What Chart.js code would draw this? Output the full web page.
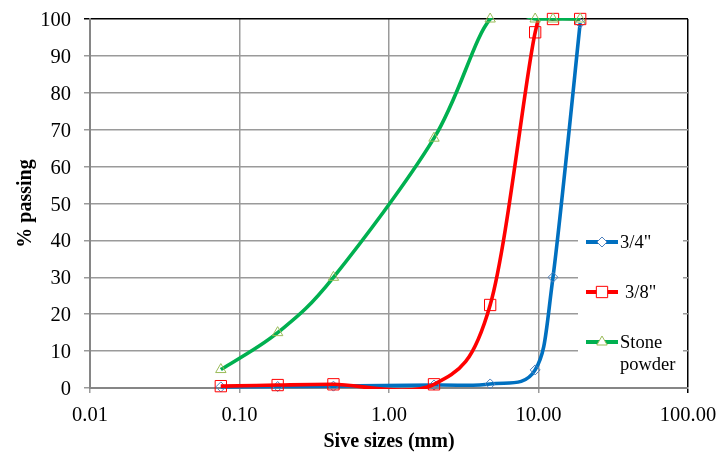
<!DOCTYPE html>
<html>
<head>
<meta charset="utf-8">
<script src="https://cdn.jsdelivr.net/npm/chart.js@4"></script>
<style>
  html, body { margin: 0; padding: 0; background: #fff; }
  #wrap { width: 720px; height: 454px; position: relative; }
  #labels { position: absolute; left: 0; top: 0; width: 720px; height: 454px; pointer-events: none;
            font-family: 'Liberation Serif', 'Times New Roman', serif; font-size: 20.5px; line-height: 20px; color: #000; }
  #labels div { position: absolute; white-space: nowrap; }
  #labels div.leg { font-size: 18.5px; }
</style>
</head>
<body>
<div id="wrap"><canvas id="grading"></canvas><div id="labels"></div></div>
<script>
// sieve sizes in mm
var sieveSizes = [0.075, 0.18, 0.425, 2.0, 4.75, 9.5, 12.5, 19.0];
// % passing per material
var passing34 = [0.3, 0.4, 0.5, 0.8, 1.1, 4.9, 30.0, 98.9];
var passing38 = [0.5, 0.8, 1.0, 1.0, 22.5, 96.4, 100, 100];
var passingStone = [5.0, 15.0, 30.0, 67.7, 100, 100, 100, 100];
var seriesNames = ['3/4"', '3/8"', 'Stone powder'];
var xTicks = [0.01, 0.1, 1, 10, 100];

var serif = "'Liberation Serif', 'Times New Roman', serif";

// look of each series (line colour, marker)
var styles = [
    { line: '#0070C0', marker: '#4F81BD', shape: 'rectRot', size: 5 },
    { line: '#FF0000', marker: '#FF0000', shape: 'rect', size: 8 },
    { line: '#00B050', marker: '#9BBB59', shape: 'triangle', size: 6 }
];
var values = [passing34, passing38, passingStone];

function toPoints(ys) {
    return sieveSizes.map(function(x, i) { return { x: x, y: ys[i] }; });
}

// Excel style smoothing: uniform Catmull-Rom (1/6) control points in pixel space
var excelSmooth = {
    id: 'excelSmooth',
    beforeDatasetsDraw: function(chart) {
        chart.data.datasets.forEach(function(ds, di) {
            if (!ds.showLine) return;
            var meta = chart.getDatasetMeta(di);
            var line = meta.dataset;
            var pts = meta.data;
            if (line && line.updateControlPoints) line.updateControlPoints(chart.chartArea, 'x');
            var n = pts.length;
            for (var i = 0; i < n; i++) {
                var prev = pts[Math.max(i - 1, 0)];
                var next = pts[Math.min(i + 1, n - 1)];
                var tx = (next.x - prev.x) / 6;
                var ty = (next.y - prev.y) / 6;
                pts[i].cp1x = pts[i].x - tx;
                pts[i].cp1y = pts[i].y - ty;
                pts[i].cp2x = pts[i].x + tx;
                pts[i].cp2y = pts[i].y + ty;
            }
        });
    }
};

function legendMarker(ctx, st, x, y) {
    ctx.save();
    ctx.fillStyle = '#fff';
    ctx.strokeStyle = st.marker;
    ctx.lineWidth = 1;
    Chart.helpers.drawPoint(ctx, { pointStyle: st.shape, radius: st.size, rotation: 0, borderWidth: 1 }, x, y);
    ctx.restore();
}

// legend box sitting inside the plot, bottom right, like the Excel original
var legendRows = [242, 292, 342];
var insideLegend = {
    id: 'insideLegend',
    afterDatasetsDraw: function(chart) {
        var ctx = chart.ctx;
        var area = chart.chartArea;
        ctx.save();
        ctx.fillStyle = '#fff';
        ctx.fillRect(area.right - 110, area.bottom - 172, 105, 169);
        seriesNames.forEach(function(name, i) {
            var st = styles[i];
            var y = legendRows[i];
            ctx.strokeStyle = st.line;
            ctx.lineWidth = 4;
            ctx.beginPath();
            ctx.moveTo(586, y);
            ctx.lineTo(618, y);
            ctx.stroke();
            legendMarker(ctx, st, 602, y);
        });
        ctx.restore();
    }
};

// tick labels and legend text as html text, placed from the chart's own scales
function addLabel(box, text, css, cls) {
    var d = document.createElement('div');
    d.textContent = text;
    if (cls) d.className = cls;
    Object.keys(css).forEach(function(k) { d.style[k] = css[k]; });
    box.appendChild(d);
}
var htmlLabels = {
    id: 'htmlLabels',
    afterRender: function(chart) {
        var box = document.getElementById('labels');
        box.innerHTML = '';
        var xs = chart.scales.x, ys = chart.scales.y;
        ys.ticks.forEach(function(t) {
            addLabel(box, String(t.value), {
                right: (720 - 71) + 'px',
                top: ys.getPixelForValue(t.value) + 'px',
                transform: 'translateY(-50%)'
            });
        });
        xs.ticks.forEach(function(t) {
            addLabel(box, Number(t.value).toFixed(2), {
                left: xs.getPixelForValue(t.value) + 'px',
                top: '414px',
                transform: 'translate(-50%, -50%)'
            });
        });
        seriesNames.forEach(function(name, i) {
            var tx = i === 1 ? 625 : 620;
            name.split(' ').forEach(function(w, k) {
                addLabel(box, w, {
                    left: tx + 'px',
                    top: (legendRows[i] + k * 22) + 'px',
                    transform: 'translateY(-50%)'
                }, 'leg');
            });
        });
    }
};

// each material: a smoothed line clipped to the plot, plus its markers on top
var datasets = [];
seriesNames.forEach(function(name, i) {
    var st = styles[i];
    datasets.push({
        label: name,
        data: toPoints(values[i]),
        showLine: true,
        borderColor: st.line,
        borderWidth: 3.6,
        tension: 0.33,
        pointRadius: 0,
        fill: false,
        clip: { left: false, right: false, top: 1, bottom: 1 },
        order: 2 * (2 - i) + 1
    });
    datasets.push({
        label: name + ' markers',
        data: toPoints(values[i]),
        showLine: false,
        pointStyle: st.shape,
        pointRadius: st.size,
        pointBorderWidth: 1,
        pointBorderColor: st.marker,
        pointBackgroundColor: 'rgba(0,0,0,0)',
        clip: false,
        order: 2 * (2 - i)
    });
});

var titleFont = { family: serif, size: 20, weight: 'bold' };

var chart = new Chart(document.getElementById('grading'), {
    type: 'line',
    data: { datasets: datasets },
    plugins: [excelSmooth, insideLegend, htmlLabels],
    options: {
        responsive: true,
        maintainAspectRatio: false,
        animation: false,
        devicePixelRatio: 1,
        layout: { padding: { left: 0, top: 19, right: 32, bottom: 0 } },
        plugins: {
            legend: { display: false },
            tooltip: { enabled: false }
        },
        scales: {
            x: {
                type: 'logarithmic',
                min: 0.01,
                max: 100,
                afterBuildTicks: function(scale) {
                    scale.ticks = xTicks.map(function(v) { return { value: v }; });
                },
                afterFit: function(scale) { scale.height = 66; },
                ticks: { display: false, autoSkip: false },
                grid: {
                    color: function(c) { return c.tick && c.tick.value === 100 ? '#000' : '#9a9a9a'; },
                    lineWidth: 1.5,
                    tickLength: 5
                },
                border: { color: '#868686', width: 2 },
                title: {
                    display: true,
                    text: 'Sive sizes (mm)',
                    color: '#000',
                    font: titleFont,
                    padding: { top: 1, bottom: 0 }
                }
            },
            y: {
                min: 0,
                max: 100,
                afterFit: function(scale) { scale.width = 90; },
                ticks: { display: false, stepSize: 10 },
                grid: {
                    color: function(c) { return c.tick && c.tick.value === 100 ? '#000' : '#9a9a9a'; },
                    lineWidth: 1.5,
                    tickLength: 6
                },
                border: { color: '#868686', width: 2 },
                title: {
                    display: true,
                    text: '% passing',
                    color: '#000',
                    font: titleFont,
                    padding: { top: 14, bottom: 0 }
                }
            }
        }
    }
});
</script>
</body>
</html>
